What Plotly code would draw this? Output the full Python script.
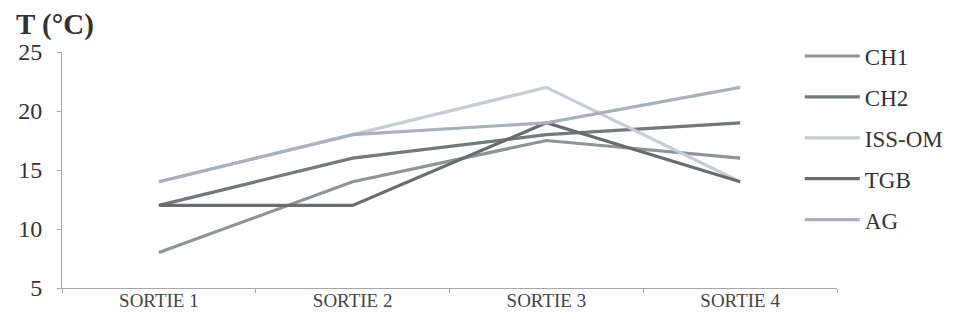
import plotly.graph_objects as go

categories = ["SORTIE 1", "SORTIE 2", "SORTIE 3", "SORTIE 4"]
series_names = ["CH1", "CH2", "ISS-OM", "TGB", "AG"]
ch1 = [8, 14, 17.5, 16]
ch2 = [12, 16, 18, 19]
iss_om = [14, 18, 22, 14]
tgb = [12, 12, 19, 14]
ag = [14, 18, 19, 22]
y_ticks = [5, 10, 15, 20, 25]

values = [ch1, ch2, iss_om, tgb, ag]
colors = ["#8d9597", "#727a7b", "#c3ced6", "#686e6f", "#a7b3bb"]

fig = go.Figure()
for i, (name, vals, col) in enumerate(zip(series_names, values, colors)):
    fig.add_trace(go.Scatter(
        x=categories, y=vals, name=name, mode="lines",
        line=dict(color=col, width=3.2),
        legendgroup=f"g{i}",
    ))

font_family = "Liberation Serif, Times New Roman, serif"
fig.update_layout(
    width=957, height=331,
    margin=dict(l=62, r=120, t=52, b=43, autoexpand=False),
    paper_bgcolor="white", plot_bgcolor="white",
    showlegend=True,
    legend=dict(
        x=0.952, xanchor="left", y=1.074, yanchor="top",
        font=dict(family=font_family, size=23, color="#333333"),
        tracegroupgap=8, itemwidth=55, maxheight=320,
        bgcolor="rgba(0,0,0,0)",
    ),
)
fig.layout.annotations = [dict(
    text="<b>T (°C)</b>", xref="paper", yref="paper",
    x=-0.062, y=1.115, xanchor="left", yanchor="middle",
    showarrow=False,
    font=dict(family=font_family, size=29, color="#333333"),
)]

fig.update_xaxes(
    type="category", range=[-0.5, 3.5],
    showline=True, linecolor="#a8a8a8", linewidth=1,
    ticks="outside", tickson="boundaries", ticklen=4, tickcolor="#a8a8a8",
    ticklabelstandoff=-5,
    showgrid=False, zeroline=False,
    tickfont=dict(family=font_family, size=19, color="#444444"),
)
fig.update_yaxes(
    range=[5, 25], tickvals=y_ticks,
    showline=True, linecolor="#a8a8a8", linewidth=1,
    ticks="outside", ticklen=4, tickcolor="#a8a8a8",
    ticklabelstandoff=10,
    showgrid=False, zeroline=False,
    tickfont=dict(family=font_family, size=24, color="#333333"),
)

fig.write_html("out.html", config={"displayModeBar": False},
               post_script="document.body.style.margin='0';")
